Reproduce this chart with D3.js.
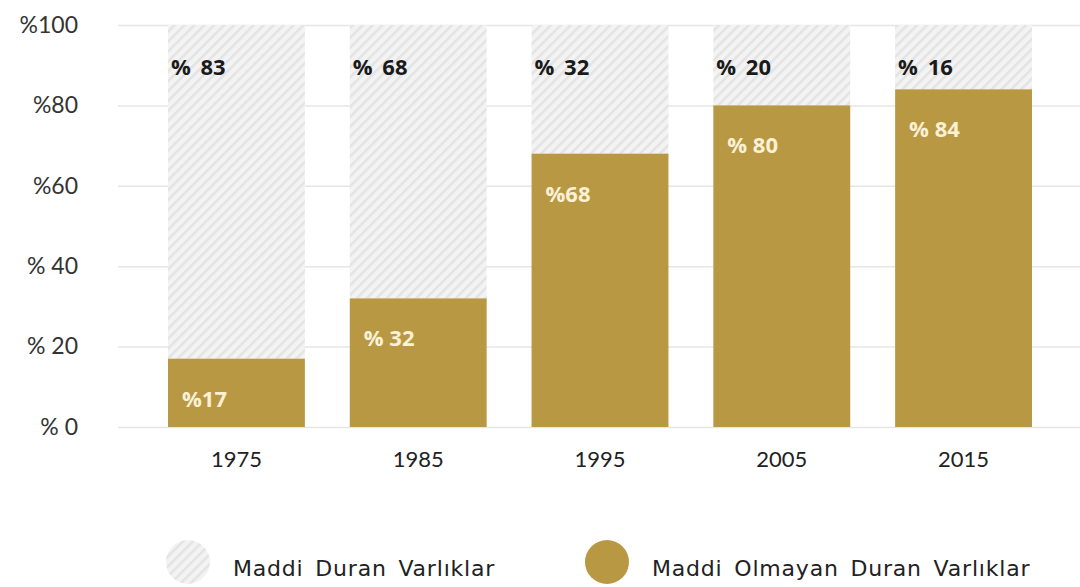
<!DOCTYPE html>
<html>
<head>
<meta charset="utf-8">
<script src="https://cdn.jsdelivr.net/npm/d3@7"></script>
<style>
  body { margin: 0; background: #fff; }
  svg { display: block; }
</style>
</head>
<body>
<script>
const years = ['1975', '1985', '1995', '2005', '2015']
const tangible = [83, 68, 32, 20, 16]        // Maddi Duran Varlıklar
const intangible = [17, 32, 68, 80, 84]      // Maddi Olmayan Duran Varlıklar
const yTicks = [0, 20, 40, 60, 80, 100]
const yTickLabels = ['% 0', '% 20', '% 40', '%60', '%80', '%100']
const tangibleLabels = ['% 83', '% 68', '% 32', '% 20', '% 16']
const intangibleLabels = ['%17', '% 32', '%68', '% 80', '% 84']
const legendNames = ['Maddi Duran Varlıklar', 'Maddi Olmayan Duran Varlıklar']

const width = 1080
const height = 587
const gold = '#b99843'

const svg = d3.select('body').append('svg')
  .attr('width', width)
  .attr('height', height)

const defs = svg.append('defs')
const pat = defs.append('pattern')
  .attr('id', 'hatch')
  .attr('patternUnits', 'userSpaceOnUse')
  .attr('width', 7)
  .attr('height', 7)
  .attr('patternTransform', 'rotate(45)')
pat.append('rect').attr('width', 7).attr('height', 7).attr('fill', '#f3f3f3')
pat.append('rect').attr('width', 2.5).attr('height', 7).attr('fill', '#e3e3e3')

const x = d3.scaleBand()
  .domain(years)
  .range([168, 1032])
  .paddingInner(0.247)
  .paddingOuter(0)

const y = d3.scaleLinear()
  .domain([0, 100])
  .range([427, 25])

// y axis + grid
const yAxis = svg.append('g')
  .attr('transform', 'translate(118,0)')
  .call(d3.axisLeft(y)
    .tickValues(yTicks)
    .tickFormat((d, i) => yTickLabels[i])
    .tickSize(-(width - 118))
    .tickPadding(40))
yAxis.select('.domain').remove()
yAxis.selectAll('.tick line').attr('stroke', '#e6e6e6').attr('stroke-width', 1.5)
yAxis.selectAll('.tick text')
  .attr('fill', '#333')
  .style('font-family', 'Lato, sans-serif')
  .style('font-size', '23px')
  .style('font-weight', 400)

// x axis
const xAxis = svg.append('g')
  .attr('transform', 'translate(0,427)')
  .call(d3.axisBottom(x).tickSize(0).tickPadding(24))
xAxis.select('.domain').remove()
xAxis.selectAll('.tick text')
  .attr('fill', '#222')
  .style('font-family', 'Lato, sans-serif')
  .style('font-size', '22px')
  .style('font-weight', 400)

const rows = years.map((yr, i) => ({ yr, t: tangible[i], n: intangible[i], i }))

// hatched (tangible) stacked on top
svg.append('g').selectAll('rect')
  .data(rows)
  .join('rect')
  .attr('x', d => x(d.yr))
  .attr('width', x.bandwidth())
  .attr('y', d => y(d.n + d.t))
  .attr('height', d => y(d.n) - y(d.n + d.t))
  .attr('fill', 'url(#hatch)')

// gold (intangible)
svg.append('g').selectAll('rect')
  .data(rows)
  .join('rect')
  .attr('x', d => x(d.yr))
  .attr('width', x.bandwidth())
  .attr('y', d => y(d.n))
  .attr('height', d => y(0) - y(d.n))
  .attr('fill', gold)

// labels
svg.append('g').selectAll('text')
  .data(rows)
  .join('text')
  .attr('x', d => x(d.yr) + 3)
  .attr('y', d => y(100) + 50)
  .attr('fill', '#1a1a1a')
  .style('font-family', '"Open Sans", sans-serif')
  .style('font-size', '22px')
  .style('font-weight', 700)
  .style('word-spacing', '4px')
  .text(d => tangibleLabels[d.i])

svg.append('g').selectAll('text')
  .data(rows)
  .join('text')
  .attr('x', d => x(d.yr) + 14)
  .attr('y', d => y(d.n) + 48)
  .attr('fill', '#fbf1d6')
  .style('font-family', '"Open Sans", sans-serif')
  .style('font-size', '22px')
  .style('font-weight', 700)
  .text(d => intangibleLabels[d.i])

// legend
const legend = svg.append('g')
const lx = [188, 607]
const lfill = ['url(#hatch)', gold]
legendNames.forEach((name, i) => {
  legend.append('circle')
    .attr('cx', lx[i])
    .attr('cy', 562)
    .attr('r', 22)
    .attr('fill', lfill[i])
  legend.append('text')
    .attr('x', lx[i] + 45)
    .attr('y', 576)
    .attr('fill', '#222')
    .style('font-family', '"DejaVu Sans", sans-serif')
    .style('font-size', '22px')
    .style('letter-spacing', '0.8px')
    .style('word-spacing', '4px')
    .text(name)
})
</script>
</body>
</html>
